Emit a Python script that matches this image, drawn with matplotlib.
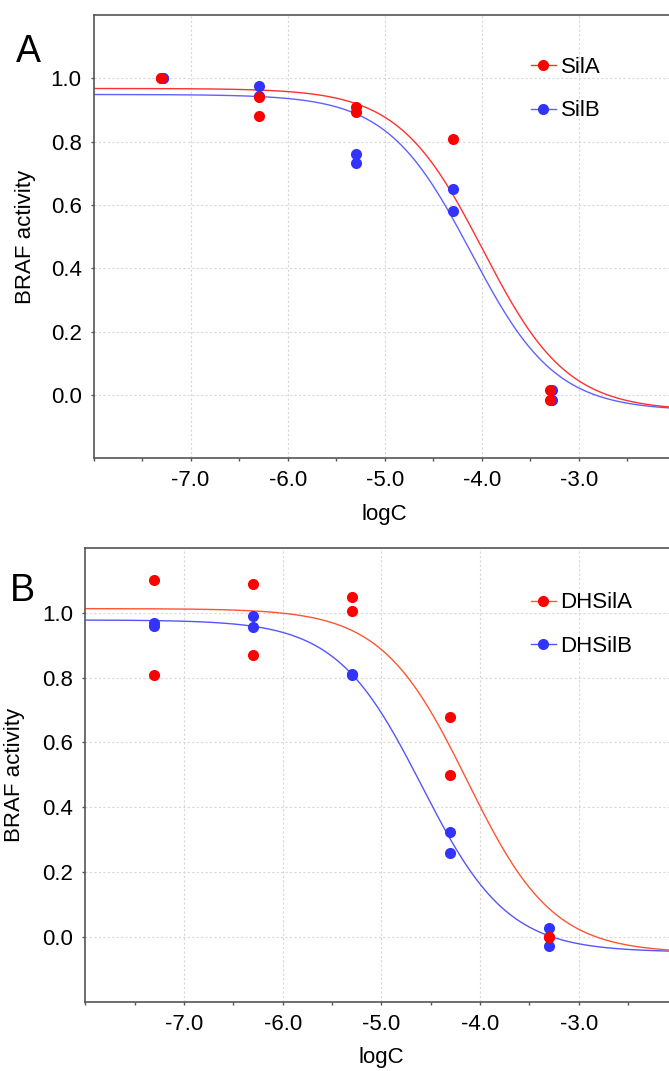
import numpy as np
import matplotlib
matplotlib.use("Agg")
import matplotlib.pyplot as plt
from matplotlib.ticker import MultipleLocator, FormatStrFormatter
from matplotlib.lines import Line2D

plt.rcParams['font.family'] = ['Liberation Sans', 'DejaVu Sans']
plt.rcParams['axes.unicode_minus'] = False

# panel A data (log concentration vs activity)
silA_x = [-7.3, -7.3, -6.3, -6.3, -5.3, -5.3, -4.3, -3.3, -3.3]
silA_y = [1.0, 1.0, 0.941, 0.880, 0.909, 0.893, 0.807, 0.015, -0.015]
silB_x = [-7.28, -7.28, -6.3, -6.3, -5.3, -5.3, -4.3, -4.3, -3.28, -3.28]
silB_y = [1.0, 1.0, 0.977, 0.945, 0.762, 0.733, 0.652, 0.580, 0.015, -0.015]

# panel B data
dhA_x = [-7.3, -7.3, -6.3, -6.3, -5.3, -5.3, -4.3, -4.3, -3.3, -3.3]
dhA_y = [1.102, 0.809, 1.090, 0.870, 1.048, 1.006, 0.680, 0.500, 0.001, 0.001]
dhB_x = [-7.3, -7.3, -6.3, -6.3, -5.3, -5.3, -4.3, -4.3, -3.3, -3.3]
dhB_y = [0.968, 0.958, 0.989, 0.956, 0.810, 0.808, 0.325, 0.258, 0.027, -0.027]

# fitted 4PL parameters: top, bottom, logIC50, hill
fit_silA = (0.968, -0.050, -3.99, 1.0)
fit_silB = (0.949, -0.050, -4.11, 1.0)
fit_dhA = (1.013, -0.050, -4.13, 1.0)
fit_dhB = (0.978, -0.047, -4.59, 1.0)

x_ticks = [-7.0, -6.0, -5.0, -4.0, -3.0]
y_ticks = [0.0, 0.2, 0.4, 0.6, 0.8, 1.0]


def logistic(x, p):
    top, bottom, c, h = p
    return bottom + (top - bottom) / (1 + 10 ** ((x - c) * h))


W, H = 669, 1071
fig = plt.figure(figsize=(W / 100, H / 100), dpi=100)


def px_axes(left, top, right, bottom):
    return fig.add_axes([left / W, 1 - bottom / H, (right - left) / W, (bottom - top) / H])


def style(ax):
    ax.set_xlim(-8, -2)
    ax.set_ylim(-0.2, 1.2)
    ax.set_xticks(x_ticks)
    ax.set_yticks(y_ticks)
    ax.xaxis.set_minor_locator(MultipleLocator(0.5))
    ax.xaxis.set_major_formatter(FormatStrFormatter('%.1f'))
    ax.yaxis.set_major_formatter(FormatStrFormatter('%.1f'))
    ax.tick_params(axis='both', which='both', direction='out', length=2.5, width=1,
                   color='#555555', labelsize=16, pad=6)
    ax.tick_params(axis='y', which='minor', length=0)
    for s in ax.spines.values():
        s.set_color('#555555')
        s.set_linewidth(1.2)
    ax.grid(True, which='major', color='#d8d8d8', linestyle=(0, (2, 2)), linewidth=0.8)
    ax.set_axisbelow(True)
    ax.set_xlabel('logC', fontsize=16, labelpad=9)
    ax.set_ylabel('BRAF activity', fontsize=16)


def panel(ax, xa, ya, xb, yb, fa, fb, ca, cb, la, lb, anchor):
    xs = np.linspace(-8, -2, 400)
    ax.plot(xs, logistic(xs, fb), color=cb, lw=1.0, zorder=2)
    ax.plot(xs, logistic(xs, fa), color=ca, lw=1.0, zorder=2)
    ax.plot(xb, yb, 'o', color='#3333ff', ms=8, mec='none', zorder=3)
    ax.plot(xa, ya, 'o', color='#ff0000', ms=8, mec='none', zorder=4)
    handles = [Line2D([], [], color=ca, lw=1.0, marker='o', ms=8, mfc='#ff0000', mec='none'),
               Line2D([], [], color=cb, lw=1.0, marker='o', ms=8, mfc='#3333ff', mec='none')]
    ax.legend(handles, [la, lb], loc='center left', bbox_to_anchor=anchor,
              bbox_transform=fig.transFigure, frameon=False, fontsize=16,
              handlelength=1.15, handletextpad=0.2, labelspacing=1.0,
              borderpad=0.4, borderaxespad=0)


axA = px_axes(93.5, 15, 676, 458.3)
style(axA)
panel(axA, silA_x, silA_y, silB_x, silB_y, fit_silA, fit_silB,
      '#ff3030', '#6060ff', 'SilA', 'SilB', (521.7 / W, 1 - 89.2 / H))
axA.yaxis.set_label_coords(-0.099, 0.5)

axB = px_axes(85.3, 548, 677.5, 1001.7)
style(axB)
panel(axB, dhA_x, dhA_y, dhB_x, dhB_y, fit_dhA, fit_dhB,
      '#ff5530', '#5555ff', 'DHSilA', 'DHSilB', (521.7 / W, 1 - 624.5 / H))
axB.yaxis.set_label_coords(-0.101, 0.5)

fig.text(16 / W, 1 - 62.5 / H, 'A', fontsize=27, va='baseline', ha='left')
fig.text(9.4 / W, 1 - 600.7 / H, 'B', fontsize=27, va='baseline', ha='left')

fig.savefig('out.png', dpi=100)
